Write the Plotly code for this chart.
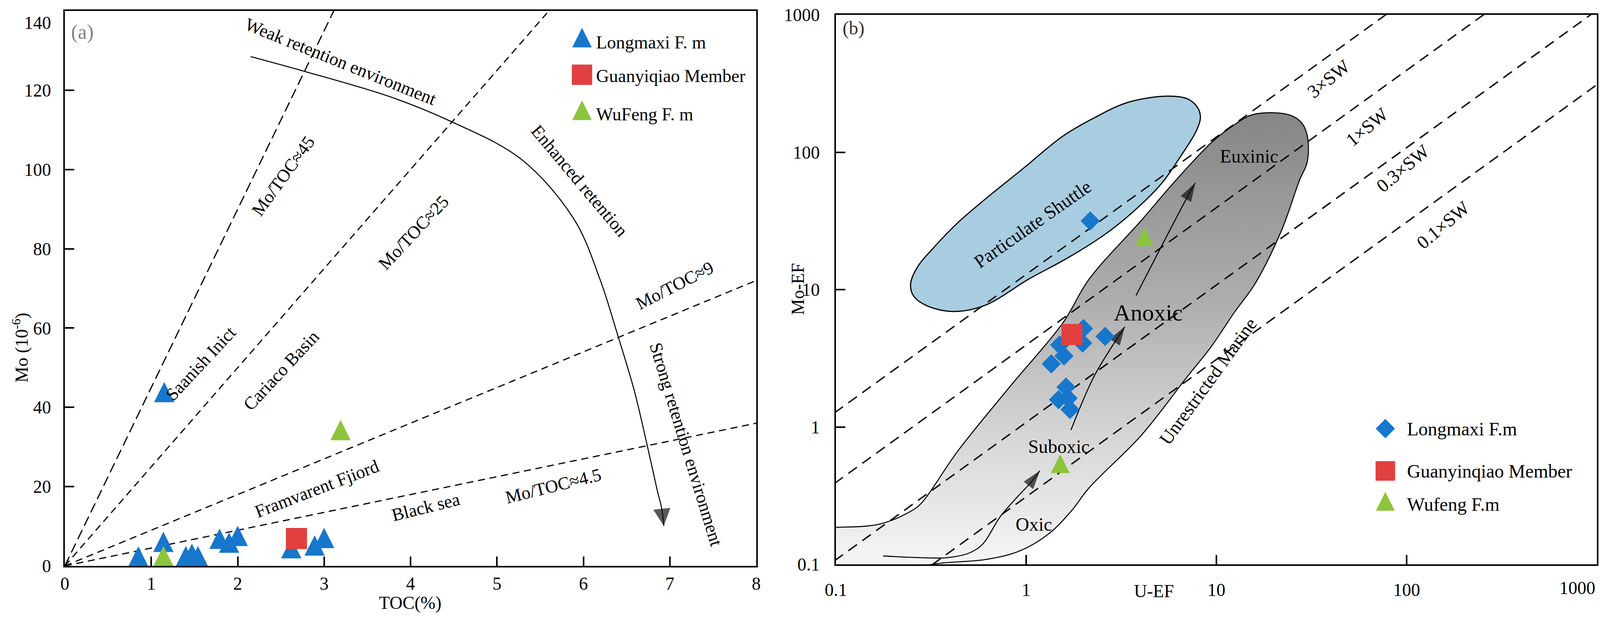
import math
import plotly.graph_objects as go

FIG_W, FIG_H = 4127, 1589

# ======================= DATA =======================
# ---- Panel (a): Mo (10^-6) versus TOC (%) ----
toc_longmaxi = [0.85, 1.14, 1.15, 1.40, 1.47, 1.54, 1.79, 1.90, 2.00, 2.62, 2.89, 3.00]
mo_longmaxi = [1.5, 5.2, 43.0, 1.6, 2.2, 1.6, 6.0, 5.0, 6.7, 3.6, 4.3, 6.2]
toc_guanyinqiao = [2.68]
mo_guanyinqiao = [6.9]
toc_wufeng = [1.14, 3.19]
mo_wufeng = [1.6, 33.4]

mo_toc_ratios = [45, 25, 9, 4.5]          # reference Mo/TOC lines through the origin

# retention-trend curve (Weak -> Enhanced -> Strong retention), last point = arrow tip
retention_toc = [2.15, 2.75, 3.77, 4.47, 5.28, 5.89, 6.19, 6.40, 6.59, 6.73, 6.85, 6.91, 6.93]
retention_mo = [128.5, 124.9, 118.3, 112.1, 102.6, 87.5, 72.4, 58.0, 44.1, 31.2, 19.5, 14.0, 10.1]

a_xticks = [0, 1, 2, 3, 4, 5, 6, 7, 8]
a_yticks = [0, 20, 40, 60, 80, 100, 120, 140]

# ---- Panel (b): Mo-EF versus U-EF ----
uef_longmaxi = [2.17, 2.00, 1.98, 2.60, 1.50, 1.58, 1.355, 1.62, 1.48, 1.66, 1.70]
moef_longmaxi = [31.6, 5.2, 4.08, 4.56, 3.95, 3.29, 2.88, 1.95, 1.58, 1.62, 1.34]
uef_guanyinqiao = [1.74]
moef_guanyinqiao = [4.71]
uef_wufeng = [1.51, 4.18]
moef_wufeng = [0.513, 23.0]

sw_labels = ["3×SW", "1×SW", "0.3×SW", "0.1×SW"]
sw_ratio = [12.9, 3.95, 1.08, 0.31]       # Mo-EF / U-EF along each seawater line

b_ticks = [0.1, 1, 10, 100, 1000]
b_ticktext = ["0.1", "1", "10", "100", "1000"]

# particulate-shuttle field outline
shuttle_uef = [0.247, 0.270, 0.319, 0.434, 0.603, 0.973, 1.56, 2.28, 3.44, 5.61, 7.11, 8.0,
               8.24, 7.86, 6.50, 5.11, 3.66, 2.57, 1.64, 1.04, 0.603, 0.41, 0.297, 0.255, 0.247]
shuttle_moef = [11.1, 14.8, 19.5, 30.4, 45.0, 76.9, 131, 178, 231, 256, 243, 209,
                178, 144, 93.8, 58.5, 37.0, 25.0, 16.9, 12.0, 7.65, 6.93, 7.69, 9.06, 11.1]

# oxic -> suboxic -> anoxic -> euxinic field outline
field_uef = [0.08, 0.1, 0.169, 0.247, 0.28, 0.44, 0.83, 1.56, 2.14, 4.04, 5.9, 9.44, 12.0, 15.2,
             19.2, 24.4, 27.7, 29.4, 30.4, 29.9, 27.4, 22.0, 16.0, 12.4, 9.4, 6.95, 4.05, 2.14,
             1.75, 1.39, 1.06, 0.85, 0.60, 0.32, 0.25, 0.08, 0.08]
field_moef = [0.186, 0.186, 0.196, 0.243, 0.277, 0.676, 2.0, 5.73, 11.9, 32, 59, 118, 153, 186,
              194, 186, 167, 146, 115, 83, 63, 27, 11.1, 6.8, 3.85, 2.28, 0.877, 0.36,
              0.25, 0.178, 0.137, 0.12, 0.108, 0.1, 0.09, 0.09, 0.186]

# redox trend arrows (last point = arrow tip)
oxic_uef = [0.177, 0.27, 0.39, 0.51, 0.59, 0.73, 0.88, 1.05, 1.18]
oxic_moef = [0.115, 0.112, 0.112, 0.122, 0.14, 0.222, 0.30, 0.39, 0.48]
suboxic_uef = [1.72, 2.28, 3.1, 3.3]
suboxic_moef = [0.95, 2.35, 4.7, 5.37]
anoxic_uef = [3.78, 7.3, 7.74]
anoxic_moef = [9.06, 52, 59.7]

legend_a_labels = ["Longmaxi F. m", "Guanyiqiao Member", "WuFeng F. m"]
legend_b_labels = ["Longmaxi F.m", "Guanyinqiao Member", "Wufeng F.m"]

# ======================= STYLE =======================
FONT = "Liberation Serif, Times New Roman, serif"
BLUE = "#1677cc"
RED = "#e23f3f"
GREEN = "#8cc43c"
SHUTTLE_FILL = "#a8cde0"
NB = "\u00a0"


def tri(size, color):
    # upright triangle centred on its centroid
    return dict(symbol="arrow-down", angle=180, standoff=size * 2.0 / 3.0,
                size=size, color=color, line=dict(width=0))


def sq(size, color):
    return dict(symbol="square", size=size, color=color, line=dict(width=0))


def dia(size, color):
    return dict(symbol="diamond", size=size, color=color, line=dict(width=0))


def paper(px, py):
    return px / FIG_W, 1.0 - py / FIG_H


fig = go.Figure()

# ======================= PANEL (a) =======================
a_dash = ["26px,12px", "18px,12px", "18px,12px", "18px,12px"]
for k, d in zip(mo_toc_ratios, a_dash):
    fig.add_trace(go.Scatter(x=[0, 8], y=[0, 8 * k], mode="lines", xaxis="x", yaxis="y",
                             line=dict(color="black", width=3, dash=d), hoverinfo="skip"))

head_sizes = [0] * (len(retention_toc) - 1) + [44]
fig.add_trace(go.Scatter(x=retention_toc, y=retention_mo, mode="lines+markers", xaxis="x", yaxis="y",
                         line=dict(color="black", width=2.6, shape="spline"),
                         marker=dict(symbol="arrow-up", size=head_sizes, angleref="previous",
                                     color="#111111", line=dict(width=0)),
                         hoverinfo="skip"))

fig.add_trace(go.Scatter(x=toc_longmaxi, y=mo_longmaxi, mode="markers", xaxis="x", yaxis="y",
                         marker=tri(52, BLUE), name="Longmaxi F. m"))
fig.add_trace(go.Scatter(x=toc_guanyinqiao, y=mo_guanyinqiao, mode="markers", xaxis="x", yaxis="y",
                         marker=sq(54, RED), name="Guanyiqiao Member"))
fig.add_trace(go.Scatter(x=toc_wufeng, y=mo_wufeng, mode="markers", xaxis="x", yaxis="y",
                         marker=tri(52, GREEN), name="WuFeng F. m"))

# ======================= PANEL (b) =======================
fig.add_trace(go.Scatter(x=shuttle_uef, y=shuttle_moef, mode="lines", xaxis="x2", yaxis="y2",
                         fill="toself", fillcolor=SHUTTLE_FILL,
                         line=dict(color="black", width=3, shape="spline"), hoverinfo="skip"))
fig.add_trace(go.Scatter(x=field_uef, y=field_moef, mode="lines", xaxis="x2", yaxis="y2",
                         fill="toself",
                         fillgradient=dict(type="vertical",
                                           colorscale=[[0, "#f9f9f9"], [0.3, "#d6d6d6"],
                                                       [0.6, "#adadad"], [1, "#868686"]]),
                         line=dict(color="black", width=2.6, shape="spline"), hoverinfo="skip"))

for r in sw_ratio:
    fig.add_trace(go.Scatter(x=[0.05, 2000], y=[0.05 * r, 2000 * r], mode="lines",
                             xaxis="x2", yaxis="y2",
                             line=dict(color="black", width=3.5, dash="27px,17px"), hoverinfo="skip"))

for xs, ys in [(oxic_uef, oxic_moef), (suboxic_uef, suboxic_moef), (anoxic_uef, anoxic_moef)]:
    sizes = [0] * (len(xs) - 1) + [50]
    fig.add_trace(go.Scatter(x=xs, y=ys, mode="lines+markers", xaxis="x2", yaxis="y2",
                             line=dict(color="black", width=2.6, shape="spline"),
                             marker=dict(symbol="arrow", size=sizes, angleref="previous",
                                         color="#111111", line=dict(width=0)),
                             hoverinfo="skip"))

fig.add_trace(go.Scatter(x=uef_longmaxi, y=moef_longmaxi, mode="markers", xaxis="x2", yaxis="y2",
                         marker=dia(38, BLUE), name="Longmaxi F.m"))
fig.add_trace(go.Scatter(x=uef_guanyinqiao, y=moef_guanyinqiao, mode="markers", xaxis="x2", yaxis="y2",
                         marker=sq(54, RED), name="Guanyinqiao Member"))
fig.add_trace(go.Scatter(x=uef_wufeng, y=moef_wufeng, mode="markers", xaxis="x2", yaxis="y2",
                         marker=tri(48, GREEN), name="Wufeng F.m"))

# ======================= manual legends =======================
legend_a_rows = [0.946, 0.885, 0.815]
legend_a_markers = [tri(50, BLUE), sq(52, RED), tri(50, GREEN)]
for yv, mk in zip(legend_a_rows, legend_a_markers):
    fig.add_trace(go.Scatter(x=[0.748], y=[yv], mode="markers", xaxis="x3", yaxis="y3",
                             marker=mk, hoverinfo="skip"))
legend_b_rows = [0.247, 0.170, 0.109]
legend_b_markers = [dia(38, BLUE), sq(50, RED), tri(48, GREEN)]
for yv, mk in zip(legend_b_rows, legend_b_markers):
    fig.add_trace(go.Scatter(x=[0.722], y=[yv], mode="markers", xaxis="x4", yaxis="y4",
                             marker=mk, hoverinfo="skip"))

# ======================= annotations =======================
ann = []


def label(text, px, py, angle=0, size=46, color="black", xanchor="center"):
    x, y = paper(px, py)
    ann.append(dict(text=text, x=x, y=y, xref="paper", yref="paper", showarrow=False,
                    textangle=angle, xanchor=xanchor, yanchor="middle",
                    font=dict(family=FONT, size=size, color=color)))


panel_a_text = [
    ("Weak retention environment", 872, 157, 22),
    ("Enhanced retention", 1484, 462, 50),
    ("Strong retention environment", 1757, 1137, 73),
    ("Mo/TOC≈45", 725, 451, -54),
    ("Mo/TOC≈25", 1058, 595, -47),
    ("Mo/TOC≈9", 1727, 730, -27),
    ("Mo/TOC≈4.5", 1416, 1243, -14),
    ("Black sea", 1090, 1297, -14),
    ("Framvarent Fjiord", 811, 1250, -21),
    ("Cariaco Basin", 719, 948, -47),
    ("Saanish Inict", 513, 930, -47),
]
for t, px, py, ang in panel_a_text:
    label(t, px, py, ang, 46)

panel_b_text = [
    ("Particulate Shuttle", 2643, 574, -35, 48),
    ("Euxinic", 3197, 400, 0, 48),
    ("Anoxic", 2939, 800, 0, 60),
    ("Suboxic", 2710, 1142, 0, 48),
    ("Oxic", 2646, 1341, 0, 48),
    ("Unrestricted Marine", 3092, 975, -54, 48),
    ("3×SW", 3401, 201, -39, 48),
    ("1×SW", 3500, 325, -40, 48),
    ("0.3×SW", 3591, 430, -40, 48),
    ("0.1×SW", 3694, 575, -40, 48),
]
for t, px, py, ang, sz in panel_b_text:
    label(t, px, py, ang, sz)

label("(a)", 180, 82, 0, 52, "#808080", "left")
label("(b)", 2155, 72, 0, 48, "#333333", "left")
label("Mo (10<sup>-6</sup>)", 52, 890, -90, 46)
label("TOC(%)", 1050, 1542, 0, 46)
label("U-EF", 2954, 1512, 0, 46)
label("Mo-EF", 2042, 740, -90, 46)
# last U-EF tick label sits flush with the right frame, as in the original
label(b_ticktext[-1], 4086, 1504, 0, 46, "black", "right")

for i, t in enumerate(legend_a_labels):
    label(t, 1524, [108, 194, 292][i], 0, 46, "black", "left")
for i, t in enumerate(legend_b_labels):
    label(t, 3600, [1097, 1205, 1290][i], 0, 48, "black", "left")

# ======================= layout =======================
axis_common = dict(ticks="inside", ticklen=24, tickwidth=4, tickcolor="black",
                   showline=True, linewidth=4, linecolor="black", mirror=True,
                   showgrid=False, zeroline=False, automargin=False,
                   ticklabeloverflow="allow",
                   tickfont=dict(family=FONT, size=46, color="black"))

# top y label sits a little below the frame corner, as in the original
a_yticktext = [str(v) for v in a_yticks[:-1]] + [NB + "<br>" + str(a_yticks[-1])]
b_xticktext = b_ticktext[:-1] + [""]

hidden = dict(range=[0, 1], visible=False, automargin=False)

fig.update_layout(
    width=FIG_W, height=FIG_H,
    autosize=False,
    margin=dict(l=0, r=0, t=0, b=0, pad=0, autoexpand=False),
    paper_bgcolor="white", plot_bgcolor="white",
    font=dict(family=FONT, size=46, color="black"),
    showlegend=False,
    xaxis=dict(domain=[166 / FIG_W, 1936 / FIG_W], range=[0, 8], tickvals=a_xticks,
               anchor="y", ticklabelstandoff=2, **axis_common),
    yaxis=dict(domain=[1 - 1448 / FIG_H, 1 - 28 / FIG_H], range=[0, 140],
               tickvals=a_yticks, ticktext=a_yticktext,
               anchor="x", ticklabelstandoff=22, **axis_common),
    xaxis2=dict(type="log", domain=[2140 / FIG_W, 4088 / FIG_W], range=[-1, 3],
                tickvals=b_ticks, ticktext=b_xticktext,
                anchor="y2", ticklabelstandoff=22, **axis_common),
    yaxis2=dict(type="log", domain=[1 - 1444 / FIG_H, 1 - 38 / FIG_H], range=[-1, 3],
                tickvals=b_ticks, ticktext=b_ticktext,
                anchor="x2", ticklabelstandoff=28, **axis_common),
    xaxis3=dict(overlaying="x", **hidden),
    yaxis3=dict(overlaying="y", **hidden),
    xaxis4=dict(overlaying="x2", **hidden),
    yaxis4=dict(overlaying="y2", **hidden),
    annotations=ann,
)

fig.write_html("out.html", config={"displayModeBar": False},
               post_script="document.body.style.margin='0';document.body.style.overflow='hidden';")
